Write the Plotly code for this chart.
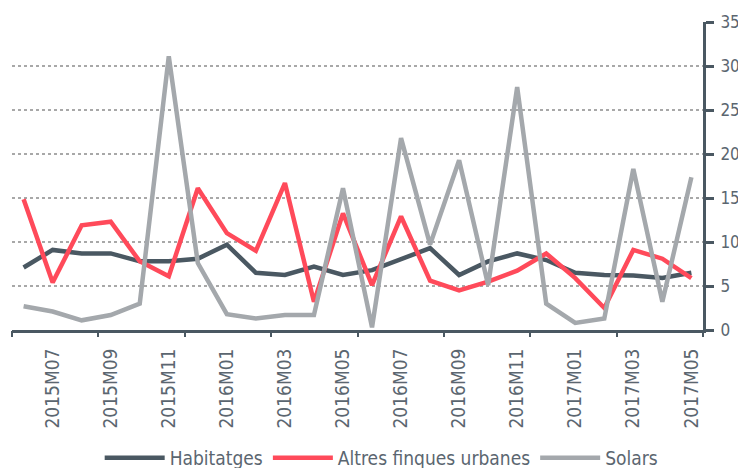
import plotly.graph_objects as go

months = ["2015M06", "2015M07", "2015M08", "2015M09", "2015M10", "2015M11", "2015M12",
          "2016M01", "2016M02", "2016M03", "2016M04", "2016M05", "2016M06", "2016M07",
          "2016M08", "2016M09", "2016M10", "2016M11", "2016M12", "2017M01", "2017M02",
          "2017M03", "2017M04", "2017M05"]

habitatges = [7.1, 9.1, 8.7, 8.7, 7.8, 7.8, 8.1, 9.7, 6.5, 6.25, 7.2, 6.25,
              6.8, 8.1, 9.3, 6.25, 7.8, 8.7, 7.95, 6.5, 6.25, 6.2, 5.9, 6.5]
altres = [14.85, 5.4, 11.9, 12.3, 7.8, 6.1, 16.1, 11.0, 9.0, 16.7, 3.2, 13.25,
          5.1, 12.9, 5.6, 4.5, 5.5, 6.75, 8.7, 5.9, 2.5, 9.1, 8.1, 5.9]
solars = [2.7, 2.1, 1.1, 1.7, 3.0, 31.1, 7.6, 1.8, 1.3, 1.7, 1.7, 16.1,
          0.3, 21.8, 9.7, 19.3, 5.1, 27.6, 3.0, 0.8, 1.3, 18.3, 3.2, 17.35]

names = ["Habitatges", "Altres finques urbanes", "Solars"]
colors = ["#4a5862", "#ff4a5a", "#a4a8ac"]
series = [habitatges, altres, solars]

idx = list(range(len(months)))
label_idx = idx[1::2]
label_text = [months[i] for i in label_idx]

X0, X1 = -0.4, 23.4
tick_marks = [X0 + (X1 - X0) * k / 8 for k in range(9)]

FONT = "DejaVu Sans Condensed, sans-serif"
TXT = "#5b6670"
AX = "#4a5862"

fig = go.Figure()
for n, c, s in zip(names, colors, series):
    fig.add_trace(go.Scatter(x=idx, y=s, name=n, mode="lines",
                             line=dict(color=c, width=4.5)))

# invisible trace to activate the tick-mark axis
fig.add_trace(go.Scatter(x=[0], y=[0], xaxis="x2", mode="markers",
                         marker=dict(opacity=0), showlegend=False, hoverinfo="skip"))

fig.update_layout(
    width=738, height=468,
    margin=dict(l=4, r=43, t=14, b=146, autoexpand=False),
    paper_bgcolor="white", plot_bgcolor="white",
    font=dict(family=FONT, size=19, color=TXT),
    showlegend=True,
    legend=dict(orientation="h", x=0.535, xanchor="center", y=-0.415, yanchor="middle",
                font=dict(size=19, color=TXT), itemwidth=60, tracegroupgap=0,
                bgcolor="rgba(0,0,0,0)"),
    xaxis=dict(range=[X0, X1], tickmode="array", tickvals=label_idx, ticktext=label_text,
               tickangle=-90, ticks="", showgrid=False, zeroline=False, ticklabelstandoff=8,
               showline=True, linecolor=AX, linewidth=3, automargin=False,
               tickfont=dict(size=19, color=TXT)),
    xaxis2=dict(range=[X0, X1], overlaying="x", anchor="y", side="bottom",
                tickmode="array", tickvals=tick_marks, showticklabels=False,
                ticks="outside", ticklen=6, tickwidth=2, tickcolor=AX, automargin=False,
                showgrid=False, zeroline=False, showline=False),
    yaxis=dict(range=[0, 35], side="right", tickmode="array", tickvals=[0, 5, 10, 15, 20, 25, 30, 35],
               ticks="outside", ticklen=8, tickwidth=2.5, tickcolor=AX, ticklabelstandoff=3,
               showline=True, linecolor=AX, linewidth=3, automargin=False,
               showgrid=True, gridcolor="#a8a8a8", griddash="dot", gridwidth=1.5,
               zeroline=False, tickfont=dict(size=17, color=TXT)),
)

fig.write_html("out.html")
